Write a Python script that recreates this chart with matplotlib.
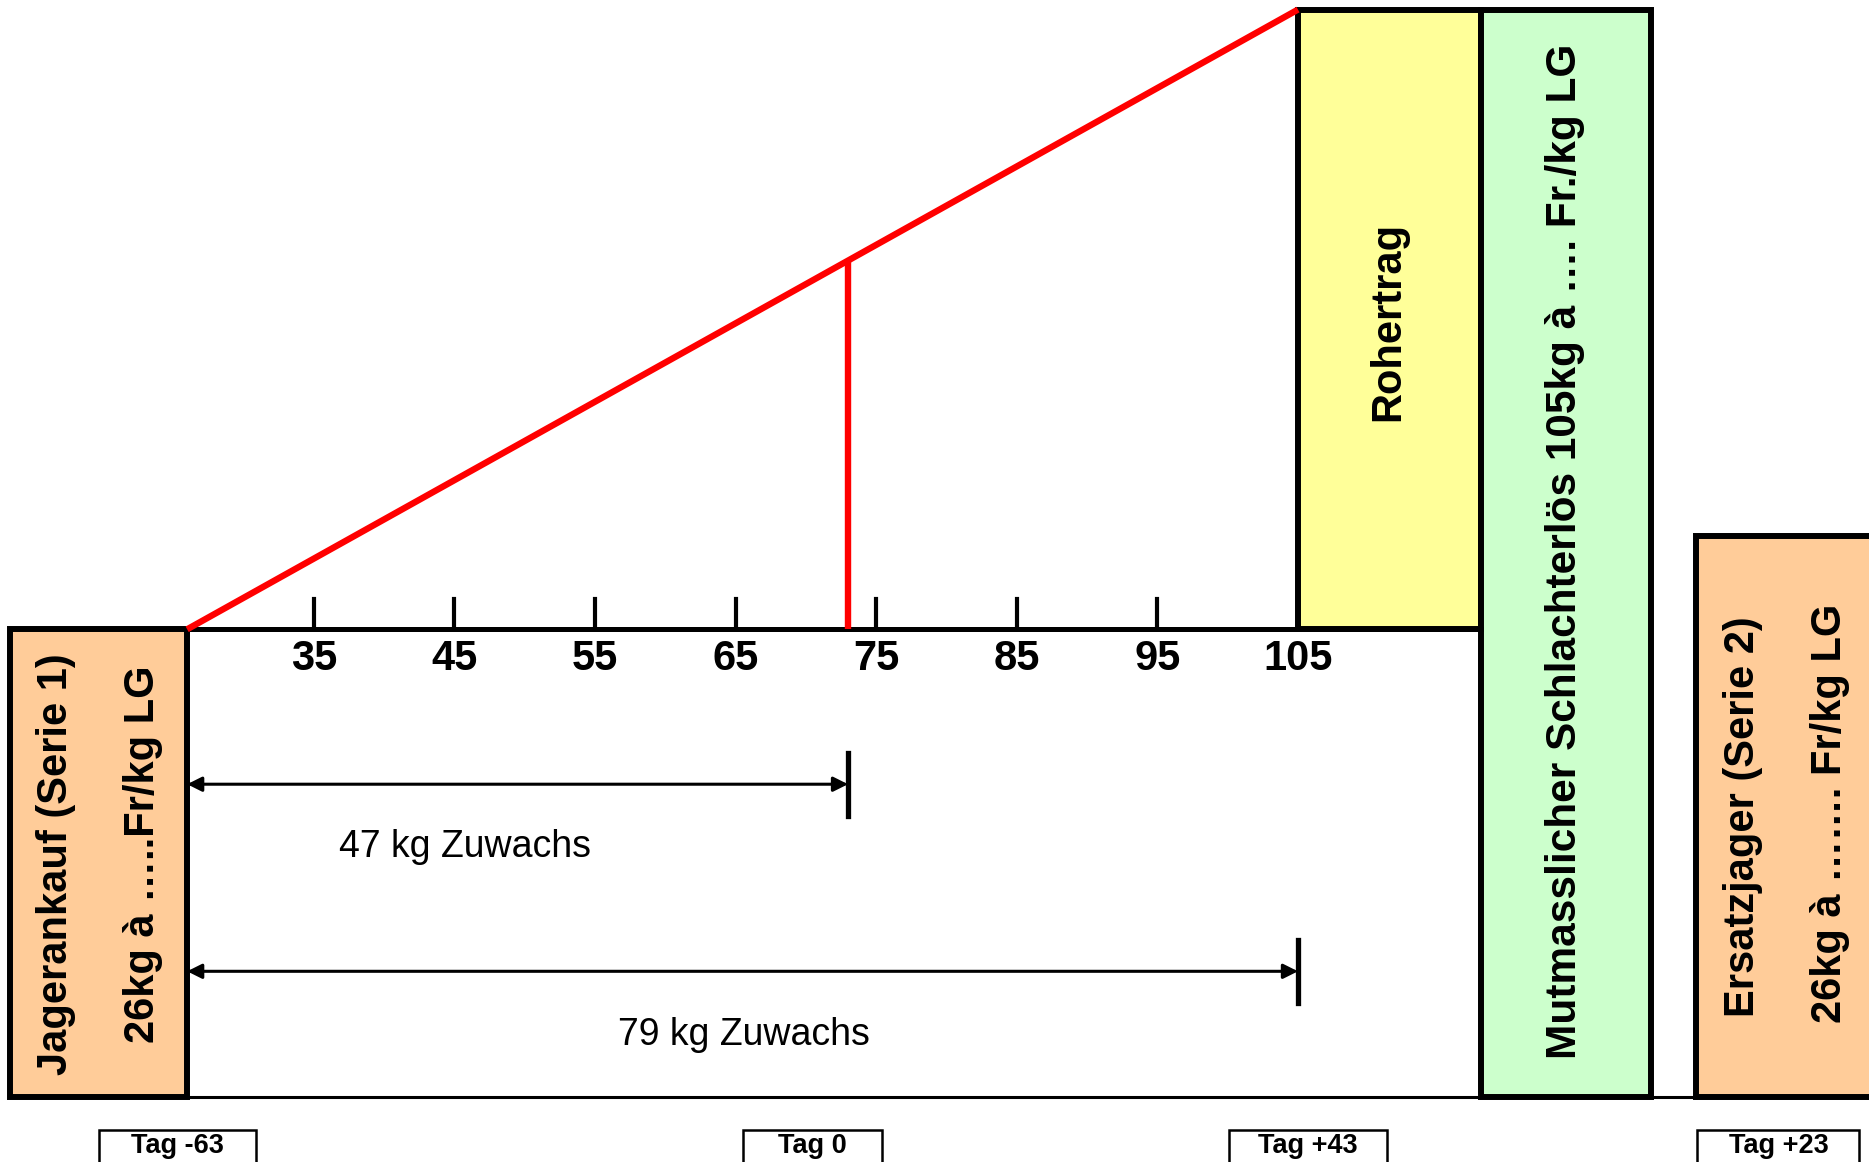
import matplotlib.pyplot as plt
from matplotlib.patches import Rectangle

plt.rcParams['font.family'] = ['Liberation Sans', 'DejaVu Sans']

# data
start_kg = 26
end_kg = 105
gains = [47, 79]
gain_labels = ["47 kg Zuwachs", "79 kg Zuwachs"]
tick_values = [35, 45, 55, 65, 75, 85, 95, 105]
tag_labels = ["Tag -63", "Tag 0", "Tag +43", "Tag +23"]
text_buy = ["Jagerankauf (Serie 1)", "26kg à …..Fr/kg LG"]
text_margin = "Rohertrag"
text_sale = "Mutmasslicher Schlachterlös 105kg à …. Fr./kg LG"
text_repl = ["Ersatzjager (Serie 2)", "26kg à ……. Fr/kg LG"]

orange = "#FFCC99"
yellow = "#FFFF99"
green = "#CCFFCC"

fig = plt.figure(figsize=(18.69, 11.62), dpi=100)
ax = fig.add_axes([0, 0, 1, 1])
ax.set_xlim(12.69, 145.61)
ax.set_ylim(-67.91, 80.22)
ax.axis("off")

top = end_kg - start_kg
bottom = -59.6

# bottom base line
ax.plot([start_kg, 147], [bottom, bottom], color="black", lw=2.2, zorder=1)

# boxes
ax.add_patch(Rectangle((13.37, bottom), start_kg - 13.37, 0 - bottom,
                       facecolor=orange, edgecolor="black", lw=4.3, zorder=3))
ax.add_patch(Rectangle((end_kg, 0), 118.05 - end_kg, top,
                       facecolor=yellow, edgecolor="black", lw=4.3, zorder=3))
ax.add_patch(Rectangle((118.05, bottom), 130.09 - 118.05, top - bottom,
                       facecolor=green, edgecolor="black", lw=4.3, zorder=3))
ax.add_patch(Rectangle((133.31, bottom), 20, 11.85 - bottom,
                       facecolor=orange, edgecolor="black", lw=4.3, zorder=3))

# weight axis
ax.plot([start_kg, 118.05], [0, 0], color="black", lw=3.6, zorder=4)
for v in tick_values:
    ax.plot([v, v], [0, 3.8], color="black", lw=3.0, zorder=4)
    ax.text(v, -3.8, str(v), ha="center", va="center", fontsize=30,
            fontweight="bold", zorder=5)

# growth line
ax.plot([start_kg, end_kg], [0, top], color="#FF0000", lw=4.6,
        solid_capstyle="butt", zorder=5)
ax.plot([start_kg + gains[0], start_kg + gains[0]], [0, gains[0]],
        color="#FF0000", lw=4.6, solid_capstyle="butt", zorder=5)

# gain arrows
arrow_y = [-19.75, -43.6]
label_pos = [(45.75, -27.8), (65.6, -51.66)]
for g, lab, y, (lx, ly) in zip(gains, gain_labels, arrow_y, label_pos):
    ax.annotate("", xy=(start_kg + g, y), xytext=(start_kg, y),
                arrowprops=dict(arrowstyle="<|-|>", color="black", lw=2.2,
                                mutation_scale=22, shrinkA=0, shrinkB=0),
                zorder=4)
    ax.plot([start_kg + g, start_kg + g], [y + 4.0, y - 4.1],
            color="black", lw=3.8, zorder=4)
    ax.text(lx, ly, lab, ha="center", va="center", fontsize=27, zorder=5)

# rotated box texts
ax.text(16.67, -29.9, text_buy[0], rotation=90, ha="center", va="center",
        fontsize=30, fontweight="bold", zorder=6)
ax.text(22.86, -28.7, text_buy[1], rotation=90, ha="center", va="center",
        fontsize=30, fontweight="bold", zorder=6)
ax.text(111.44, 39.2, text_margin, rotation=90, ha="center", va="center",
        fontsize=30, fontweight="bold", zorder=6)
ax.text(124.0, 9.9, text_sale, rotation=90, ha="center", va="center",
        fontsize=30.5, fontweight="bold", zorder=6)
ax.text(136.62, -23.9, text_repl[0], rotation=90, ha="center", va="center",
        fontsize=30, fontweight="bold", zorder=6)
ax.text(142.81, -23.4, text_repl[1], rotation=90, ha="center", va="center",
        fontsize=30, fontweight="bold", zorder=6)

# day labels
tag_boxes = [(19.73, 30.92), (65.5, 75.4), (100.09, 111.36), (133.4, 144.93)]
for lab, (x0, x1) in zip(tag_labels, tag_boxes):
    ax.add_patch(Rectangle((x0, -70), x1 - x0, 70 - 63.8, facecolor="white",
                           edgecolor="black", lw=1.8, zorder=3))
    ax.text((x0 + x1) / 2, -65.9, lab, ha="center", va="center", fontsize=19.5,
            fontweight="bold", zorder=5)

fig.savefig("out.png", dpi=100)
